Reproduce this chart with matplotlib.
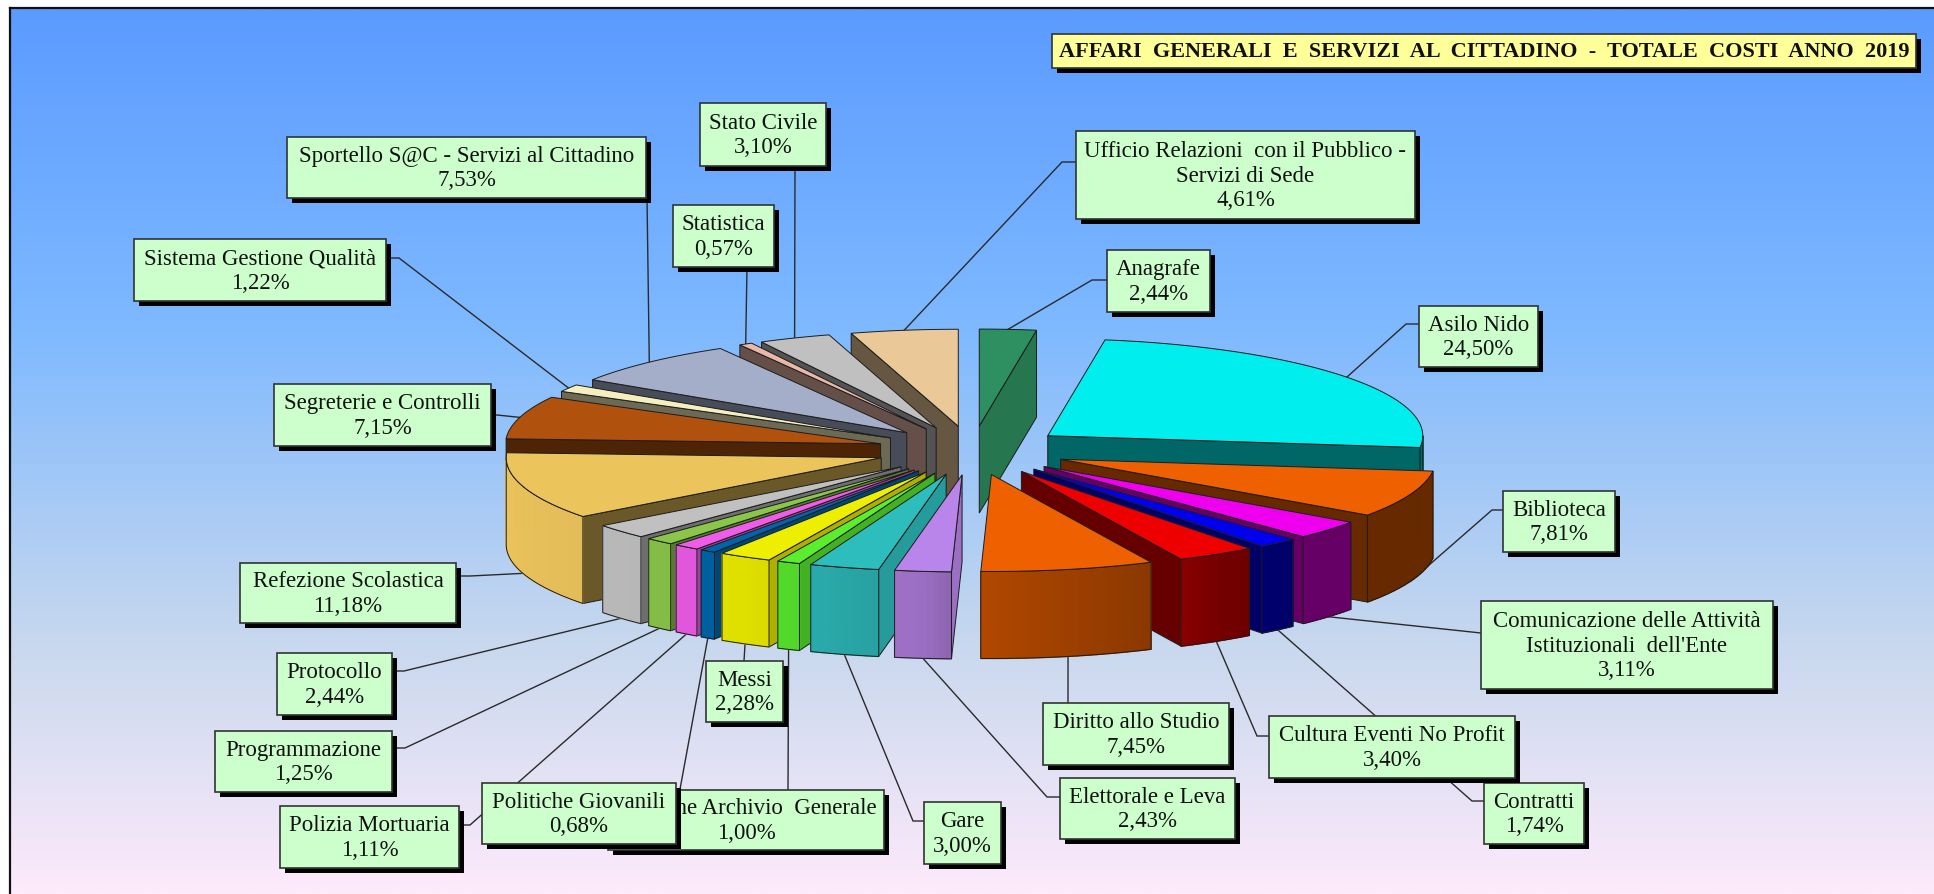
"""Exploded 3D pie of the 2019 cost shares, drawn by hand in pixel coordinates."""

import matplotlib
matplotlib.use("Agg")
import matplotlib.pyplot as plt
from matplotlib.colors import LinearSegmentedColormap, to_rgb
from matplotlib.patches import Polygon, Rectangle
import numpy as np

plt.rcParams["font.family"] = ["Liberation Serif", "DejaVu Serif"]

W, H = 1934, 895

TITLE = "AFFARI  GENERALI  E  SERVIZI  AL  CITTADINO  -  TOTALE  COSTI  ANNO  2019"

# ── data, clockwise from 12 o'clock ───────────────────────────────────────────
names = [
    "Anagrafe", "Asilo Nido", "Biblioteca",
    "Comunicazione delle Attività\nIstituzionali  dell'Ente", "Contratti",
    "Cultura Eventi No Profit", "Diritto allo Studio",
    "Elettorale e Leva", "Gare", "Gestione Archivio  Generale", "Messi",
    "Politiche Giovanili", "Polizia Mortuaria", "Programmazione",
    "Protocollo", "Refezione Scolastica", "Segreterie e Controlli",
    "Sistema Gestione Qualità", "Sportello S@C - Servizi al Cittadino",
    "Statistica", "Stato Civile",
    "Ufficio Relazioni  con il Pubblico -\nServizi di Sede",
]
values = [
    2.44, 24.50, 7.81, 3.11, 1.74, 3.40, 7.45, 2.43, 3.00, 1.00, 2.28,
    0.68, 1.11, 1.25, 2.44, 11.18, 7.15, 1.22, 7.53, 0.57, 3.10, 4.61,
]
top_colors = [
    "#2e8f60", "#00eeee", "#ee6000", "#ee00ee", "#0000ee", "#ee0000",
    "#ee6000", "#ba85ea", "#2ebdbd", "#5aee2e", "#eeee00", "#0065a8",
    "#ee5ce8", "#8ac64a", "#c0c0c0", "#ecc45c", "#b0520e", "#f5efc0",
    "#a5aec8", "#e8b8a8", "#c0c0c0", "#eac898",
]

# ── layout, all in pixels ─────────────────────────────────────────────────────
CX, CY = 972, 451.5        # pie centre before the explosion
RX, RY = 375, 97           # top ellipse
EX, EY = 95, 24.5          # explosion ellipse
DEPTH = 87
SHADOW = 5
EDGE = "#1c1c1c"

# box: x0, y0, x1, y1 -- same order as names
boxes = [
    (1107, 251, 1210, 313), (1419, 307, 1538, 368), (1503, 492, 1615, 553),
    (1481, 602, 1773, 690), (1484, 784, 1584, 845), (1269, 717, 1515, 779),
    (1043, 704, 1229, 766), (1060, 779, 1235, 840), (924, 803, 1001, 865),
    (608, 791, 884, 851), (706, 662, 783, 723), (482, 784, 676, 845),
    (280, 807, 459, 869), (215, 732, 392, 793), (277, 654, 392, 716),
    (240, 564, 456, 624), (274, 385, 491, 447), (134, 240, 386, 302),
    (287, 138, 646, 199), (673, 206, 774, 268), (700, 104, 826, 167),
    (1076, 132, 1415, 220),
]
# leader route after the slice anchor
routes = [
    [(1092, 281), (1107, 281)], [(1406, 325), (1419, 325)],
    [(1492, 511), (1503, 511)], [(1481, 634)],
    [(1472, 802), (1484, 802)], [(1257, 737), (1269, 737)],
    [(1068, 704)], [(1047, 798), (1060, 798)], [(913, 822), (924, 822)],
    [(788, 791)], [(744, 662)], [(676, 812)],
    [(470, 826), (459, 826)], [(405, 749), (392, 749)],
    [(404, 672), (392, 672)], [(470, 577), (456, 577)],
    [(497, 416), (491, 416)], [(399, 259), (386, 259)],
    [(647, 199)], [(747, 268)], [(795, 167)],
    [(1062, 163), (1076, 163)],
]
# boxes are painted in this order, later ones cover earlier ones
box_order = [9, 10] + [i for i in range(len(names)) if i not in (9, 10)]

# brightness of the cut faces and of the outer wall against the clock angle
CUT_DEG = [0, 9, 90, 180, 182, 190, 201, 213, 224, 232, 360]
CUT_K = [.85, .83, .43, .43, .93, .82, .75, .70, .57, .45, .43]
RIM_DEG = [90, 135, 148, 155, 181, 186, 196, 210, 232, 270]
RIM_K = [.43, .43, .49, .58, .74, .83, .88, .94, .96, 1.0]


def shade(color, k):
    return tuple(c * k for c in to_rgb(color))


def apex_of(mid):
    return (CX + EX * np.sin(np.radians(mid)), CY - EY * np.cos(np.radians(mid)))


def rim(ax0, ay0, deg):
    r = np.radians(deg)
    return ax0 + RX * np.sin(r), ay0 - RY * np.cos(r)


def pct(v):
    return f"{v:.2f}%".replace(".", ",")


def draw_slice(ax, t0, t1, color, z):
    mid = (t0 + t1) / 2
    ax0, ay0 = apex_of(mid)
    p0 = rim(ax0, ay0, t0)
    p1 = rim(ax0, ay0, t1)

    # cut faces facing the viewer
    for p, deg, seen in ((p0, t0, np.sin(np.radians(t0)) < 0),
                         (p1, t1, np.sin(np.radians(t1)) > 0)):
        if seen:
            ax.add_patch(Polygon(
                [(ax0, ay0), p, (p[0], p[1] + DEPTH), (ax0, ay0 + DEPTH)],
                closed=True, fc=shade(color, np.interp(deg, CUT_DEG, CUT_K)),
                ec=EDGE, lw=0.7, zorder=z))

    # outer wall, in strips so that it can carry the gradient
    a0, a1 = max(t0, 90), min(t1, 270)
    if a1 > a0:
        degs = np.linspace(a0, a1, max(2, int(a1 - a0) + 2))
        for d0, d1 in zip(degs[:-1], degs[1:]):
            q0, q1 = rim(ax0, ay0, d0), rim(ax0, ay0, d1)
            fc = shade(color, np.interp((d0 + d1) / 2, RIM_DEG, RIM_K))
            ax.add_patch(Polygon(
                [q0, q1, (q1[0], q1[1] + DEPTH), (q0[0], q0[1] + DEPTH)],
                closed=True, fc=fc, ec=fc, lw=1.0, zorder=z))
        arc = [rim(ax0, ay0, d) for d in degs]
        outline = [arc[0]] + arc[1:] + [(x, y + DEPTH) for x, y in arc[::-1]]
        ax.add_patch(Polygon(outline, closed=True, fill=False, ec=EDGE, lw=0.7,
                             zorder=z))

    # top face
    degs = np.linspace(t0, t1, max(2, int(t1 - t0) + 2))
    ax.add_patch(Polygon([(ax0, ay0)] + [rim(ax0, ay0, d) for d in degs],
                         closed=True, fc=color, ec=EDGE, lw=0.7, zorder=z))


def draw_box(ax, x0, y0, x1, y1, text, fc, z, **kw):
    ax.add_patch(Rectangle((x0 + SHADOW, y0 + SHADOW), x1 - x0, y1 - y0,
                           fc="black", ec="none", zorder=z))
    ax.add_patch(Rectangle((x0, y0), x1 - x0, y1 - y0, fc=fc, ec="#333333",
                           lw=1.2, zorder=z + 0.1))
    ax.text((x0 + x1) / 2, (y0 + y1) / 2, text, ha="center", va="center",
            color="#111111", linespacing=1.2, zorder=z + 0.2, **kw)


def main():
    fig = plt.figure(figsize=(W / 100, H / 100), dpi=100, facecolor="white")
    ax = fig.add_axes([0, 0, 1, 1])
    ax.set_xlim(0, W)
    ax.set_ylim(H, 0)
    ax.axis("off")

    # background gradient inside the frame
    stops = [(0.0, "#5b9bff"), (0.36, "#7eb9ff"), (0.72, "#c8d8ee"), (1.0, "#fdeafb")]
    cmap = LinearSegmentedColormap.from_list("bg", stops)
    ax.imshow(np.linspace(0, 1, 400)[:, None], cmap=cmap, aspect="auto",
              extent=(10, W, H, 9), zorder=0)
    ax.plot([10, 10], [H, 9], color="#111111", lw=1.6, zorder=1)
    ax.plot([10, W], [9, 9], color="#111111", lw=1.6, zorder=1)
    ax.set_xlim(0, W)
    ax.set_ylim(H, 0)

    edges = np.cumsum([0] + values) * 360.0 / sum(values)
    mids = (edges[:-1] + edges[1:]) / 2

    # leaders run behind the pie and the boxes
    for mid, route in zip(mids, routes):
        ax0, ay0 = apex_of(mid)
        x, y = rim(ax0, ay0, mid)
        if np.cos(np.radians(mid)) < 0:
            y += DEPTH
        pts = [(x, y)] + route
        ax.plot([p[0] for p in pts], [p[1] for p in pts], color="#2a2a2a",
                lw=1.0, zorder=2, solid_joinstyle="miter")

    # painter's order: back slices first
    order = np.argsort(-np.cos(np.radians(mids)))
    for n, i in enumerate(order):
        draw_slice(ax, edges[i], edges[i + 1], top_colors[i], 3 + n * 0.01)

    for n, i in enumerate(box_order):
        x0, y0, x1, y1 = boxes[i]
        draw_box(ax, x0, y0, x1, y1, f"{names[i]}\n{pct(values[i])}", "#ccffcc",
                 5 + n, fontsize=16.5)

    draw_box(ax, 1052, 35, 1916, 69, TITLE, "#ffff99", 40, fontsize=16,
             fontweight="bold")

    fig.savefig("out.png", dpi=100, facecolor="white")
    plt.close(fig)


if __name__ == "__main__":
    main()
